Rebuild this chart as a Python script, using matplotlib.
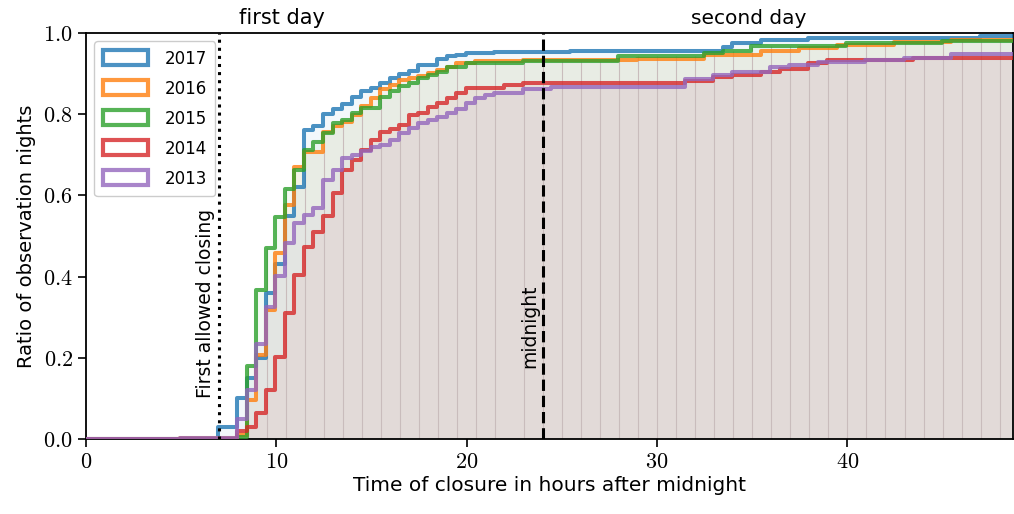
import numpy as np
import matplotlib.pyplot as plt
from matplotlib.patches import Patch
from matplotlib.ticker import FuncFormatter

plt.rcParams['mathtext.fontset'] = 'cm'
plt.rcParams['font.family'] = 'DejaVu Sans'

# cumulative ratio of observation nights: step positions (hours after midnight) and levels
years = ['2017', '2016', '2015', '2014', '2013']
colors = ['#1f77b4', '#ff7f0e', '#2ca02c', '#d62728', '#9467bd']

hours_2017 = [6.95, 7.95, 8.45, 8.95, 9.45, 9.95, 10.45, 10.95, 11.45, 11.95, 12.45, 12.95,
              13.45, 13.95, 14.45, 14.95, 15.45, 15.95, 16.45, 16.95, 17.45, 18.45, 18.95,
              19.45, 19.95, 21.45, 25.45, 33.45, 33.95, 35.45, 37.95, 46.95]
ratio_2017 = [0.03, 0.10, 0.15, 0.20, 0.36, 0.43, 0.55, 0.62, 0.76, 0.77, 0.80, 0.813,
              0.825, 0.843, 0.856, 0.865, 0.878, 0.889, 0.90, 0.907, 0.921, 0.935, 0.943,
              0.947, 0.95, 0.953, 0.956, 0.966, 0.976, 0.983, 0.987, 0.993]

hours_2016 = [4.95, 7.95, 8.45, 8.95, 9.45, 9.95, 10.45, 10.95, 11.45, 12.45, 12.95, 13.45,
              13.95, 14.45, 14.95, 15.45, 15.95, 16.45, 16.95, 17.45, 17.95, 18.45, 18.95,
              19.45, 20.45, 22.95, 28.95, 32.45, 35.45, 37.45, 39.45, 42.45, 45.45]
ratio_2016 = [0.003, 0.01, 0.096, 0.207, 0.318, 0.457, 0.576, 0.671, 0.708, 0.757, 0.771, 0.78,
              0.798, 0.819, 0.84, 0.862, 0.872, 0.884, 0.888, 0.895, 0.902, 0.91, 0.916,
              0.925, 0.931, 0.933, 0.937, 0.947, 0.956, 0.962, 0.97, 0.977, 0.983]

hours_2015 = [7.95, 8.45, 8.95, 9.45, 9.95, 10.45, 10.95, 11.45, 11.95, 12.45, 12.95, 13.45,
              13.95, 14.45, 15.45, 15.95, 16.45, 16.95, 17.45, 17.95, 18.45, 18.95, 19.95,
              20.45, 22.95, 27.95, 32.45, 33.45, 34.95, 39.95, 44.95]
ratio_2015 = [0.005, 0.18, 0.367, 0.47, 0.548, 0.616, 0.663, 0.712, 0.732, 0.753, 0.779, 0.786,
              0.802, 0.815, 0.843, 0.856, 0.869, 0.876, 0.89, 0.897, 0.905, 0.917, 0.925,
              0.927, 0.931, 0.943, 0.95, 0.955, 0.968, 0.976, 0.98]

hours_2014 = [7.95, 8.45, 8.95, 9.45, 9.95, 10.45, 10.95, 11.45, 11.95, 12.45, 12.95, 13.45,
              13.95, 14.45, 14.95, 15.45, 15.95, 16.45, 16.95, 17.45, 17.95, 18.45, 18.95,
              19.45, 19.95, 21.95, 22.95, 31.45, 32.95, 33.95, 35.45, 36.45, 37.95, 38.95, 43.45]
ratio_2014 = [0.02, 0.03, 0.063, 0.12, 0.203, 0.31, 0.404, 0.474, 0.511, 0.549, 0.605, 0.663,
              0.687, 0.712, 0.736, 0.757, 0.763, 0.774, 0.798, 0.804, 0.817, 0.828, 0.839,
              0.853, 0.864, 0.873, 0.878, 0.883, 0.891, 0.897, 0.905, 0.911, 0.927, 0.934, 0.938]

hours_2013 = [4.95, 7.95, 8.45, 8.95, 9.45, 9.95, 10.45, 10.95, 11.45, 11.95, 12.45, 12.95,
              13.45, 13.95, 14.45, 14.95, 15.45, 15.95, 16.45, 16.95, 17.45, 17.95, 18.45,
              18.95, 19.45, 19.95, 20.45, 20.95, 21.45, 22.95, 24.45, 31.45, 32.95, 33.95,
              35.95, 36.95, 38.45, 40.95, 42.95, 45.45]
ratio_2013 = [0.003, 0.05, 0.12, 0.234, 0.326, 0.401, 0.482, 0.533, 0.552, 0.568, 0.638, 0.663,
              0.691, 0.70, 0.71, 0.718, 0.724, 0.736, 0.753, 0.765, 0.779, 0.786, 0.792,
              0.804, 0.814, 0.827, 0.839, 0.847, 0.851, 0.861, 0.868, 0.886, 0.897, 0.905,
              0.917, 0.921, 0.929, 0.934, 0.938, 0.948]

hours = [hours_2017, hours_2016, hours_2015, hours_2014, hours_2013]
ratios = [ratio_2017, ratio_2016, ratio_2015, ratio_2014, ratio_2013]

xmax = 48.7
first_closing = 7
midnight = 24

fig = plt.figure(figsize=(10.14, 5.14), dpi=100)
ax = fig.add_axes([86 / 1014, 1 - 439 / 514, 927 / 1014, 406 / 514])

steps = []
for h, r in zip(hours, ratios):
    x = np.r_[0, h, xmax]
    y = np.r_[0, r, r[-1]]
    steps.append((x, y))

# faint fills under every year
for (x, y), c in zip(steps, colors):
    ax.fill_between(x, y, step='post', color=c, alpha=0.05, lw=0)

# faint bar edges (one hour apart)
edges = np.r_[np.arange(7.5, 22, 1.0), np.arange(23, 49, 1.0)]
def level(x, y, t):
    return y[np.searchsorted(x, t, side='right') - 1]
tops = [max(level(*steps[1], t), level(*steps[2], t)) for t in edges]
ax.vlines(edges, 0, tops, color='#c9bcbc', lw=0.8, zorder=1)

for (x, y), c in zip(steps, colors):
    ax.step(x, y, where='post', color=c, lw=2.9, alpha=0.8, zorder=3)

ax.axvline(first_closing, color='k', ls=':', lw=2.2, zorder=4)
ax.axvline(midnight, color='k', ls='--', lw=2.2, zorder=4)
ax.text(first_closing - 0.2, 0.1, 'First allowed closing', rotation=90,
        ha='right', va='bottom', fontsize=13.5)
ax.text(midnight - 0.2, 0.175, 'midnight', rotation=90,
        ha='right', va='bottom', fontsize=13.5)
ax.text(10.3, 1.012, 'first day', ha='center', va='bottom', fontsize=15)
ax.text(34.8, 1.012, 'second day', ha='center', va='bottom', fontsize=14.5)

ax.set_xlim(0, xmax)
ax.set_ylim(0, 1)
ax.set_xticks([0, 10, 20, 30, 40])
ax.set_yticks([0, 0.2, 0.4, 0.6, 0.8, 1.0])
ax.xaxis.set_major_formatter(FuncFormatter(lambda v, p: f'${v:.0f}$'))
ax.yaxis.set_major_formatter(FuncFormatter(lambda v, p: f'${v:.1f}$'))
ax.tick_params(labelsize=16, length=6, width=1.2)
for s in ax.spines.values():
    s.set_linewidth(1.3)
ax.set_xlabel('Time of closure in hours after midnight', fontsize=14.5, labelpad=3)
ax.set_ylabel('Ratio of observation nights', fontsize=14, labelpad=5)

handles = [Patch(facecolor='none', edgecolor=c, lw=3, alpha=0.8) for c in colors]
ax.legend(handles, years, loc='upper left', fontsize=12, handlelength=2.7,
          handleheight=1.0, labelspacing=0.72, borderpad=0.5, handletextpad=1.0,
          framealpha=1, edgecolor='#cccccc')

fig.savefig('out.png', dpi=100)
